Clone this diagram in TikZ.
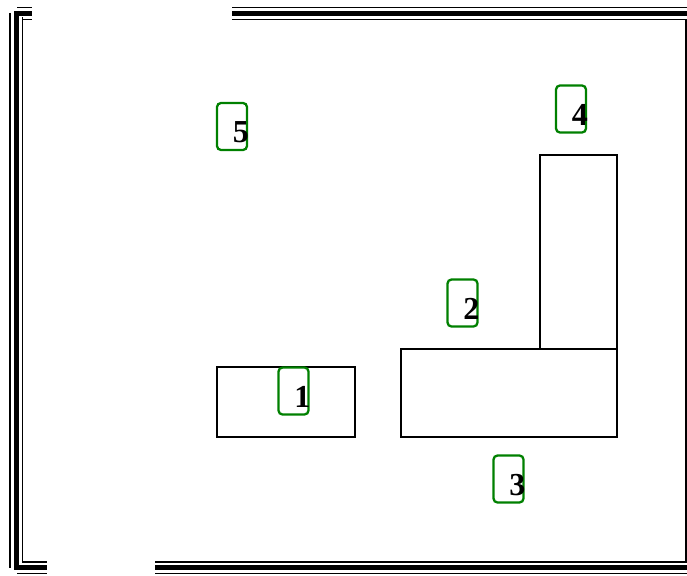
\documentclass[tikz,border=0pt]{standalone}
\usepackage{fontspec}
\setmainfont{Liberation Serif}
\definecolor{labgreen}{RGB}{0,128,0}
\begin{document}
\begin{tikzpicture}[x=1pt,y=-1pt,
  labbox/.style={draw=labgreen, line width=2.3pt, rounded corners=4pt, minimum width=30pt, minimum height=47pt, inner sep=0pt},
  digit/.style={font=\bfseries\fontsize{32}{32}\selectfont, inner sep=0pt, anchor=east},
  room/.style={draw, line width=1.1pt, inner sep=0pt},
  thinln/.style={line width=1.6pt},
  thickln/.style={line width=5pt}]
\useasboundingbox (0,0) rectangle (687,575);
% frame: top
\draw[thinln] (232,7.5) -- (687,7.5);
\draw[thickln] (232,13.5) -- (687,13.5);
\draw[thinln] (232,19.5) -- (687,19.5);
\draw[thinln] (17,7.5) -- (32,7.5);
\draw[thickln] (16,13.5) -- (32,13.5);
\draw[thinln] (22,19.5) -- (32,19.5);
% left
\draw[thinln] (10,13) -- (10,568);
\draw[thickln] (16,11) -- (16,570);
\draw[thinln] (22.5,17) -- (22.5,562);
% bottom
\draw[thinln] (22,562) -- (47,562);
\draw[thickln] (16,567.5) -- (47,567.5);
\draw[thinln] (17,573.5) -- (47,573.5);
\draw[thinln] (155,562) -- (687,562);
\draw[thickln] (155,567.5) -- (687,567.5);
\draw[thinln] (155,573.5) -- (687,573.5);
% right
\draw[line width=1.2pt] (686,19.5) -- (686,562);
% rooms
\node[room, minimum width=138pt, minimum height=70pt] (r1) at (286,402) {};
\node[room, minimum width=216pt, minimum height=88pt] (r3) at (509,393) {};
\node[room, minimum width=77pt, minimum height=194pt] (r4) at (578.5,252) {};
% labels
\node[labbox] (b5) at (232,126.5) {};
\node[digit] (t5) at ([xshift=1pt,yshift=-6pt]b5.east) {5};
\node[labbox] (b4) at (571,109) {};
\node[digit] (t4) at ([xshift=1pt,yshift=-6pt]b4.east) {4};
\node[labbox] (b2) at (462.5,303) {};
\node[digit] (t2) at ([xshift=1pt,yshift=-6pt]b2.east) {2};
\node[labbox] (b1) at (293.5,391) {};
\node[digit] (t1) at ([xshift=1pt,yshift=-6pt]b1.east) {1};
\node[labbox] (b3) at (508.5,479) {};
\node[digit] (t3) at ([xshift=1pt,yshift=-6pt]b3.east) {3};
\end{tikzpicture}
\end{document}
